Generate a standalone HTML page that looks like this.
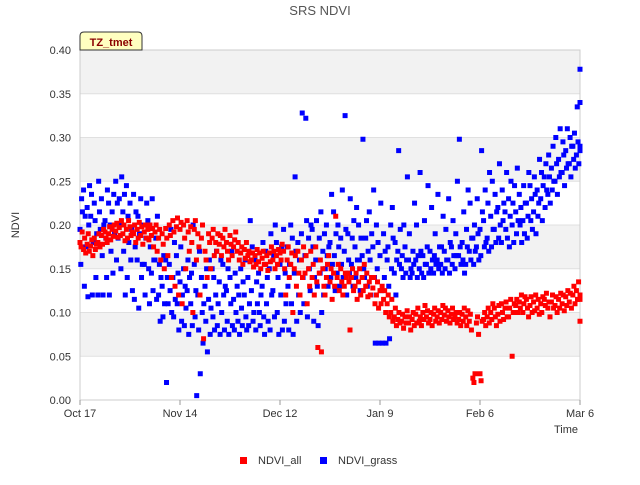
<!DOCTYPE html>
<html><head><meta charset="utf-8"><style>
body{margin:0;background:#fff;font-family:"Liberation Sans",sans-serif}
</style></head><body>
<svg id="chart" width="640" height="480" xmlns="http://www.w3.org/2000/svg" font-family="Liberation Sans, sans-serif">
<rect width="640" height="480" fill="#fff"/>
<g id="bands"></g>
<g id="grid"></g>
<rect x="80" y="50" width="500" height="350" fill="none" stroke="#ccc"/>
<g id="ticks"></g>
<g id="points"></g>
<text x="320" y="15" text-anchor="middle" font-size="13" fill="#555">SRS NDVI</text>
<text x="19" y="225" text-anchor="middle" font-size="11" fill="#333" transform="rotate(-90 19 225)">NDVI</text>
<text x="578" y="433" text-anchor="end" font-size="11" fill="#333">Time</text>
<g>
<path d="M80,50 L80,36 Q80,32 84,32 L138,32 Q142,32 142,36 L142,50 Z" fill="#ffffc0" stroke="#333"/>
<text x="111" y="46" text-anchor="middle" font-size="11" font-weight="bold" fill="#8b0000">TZ_tmet</text>
</g>
<g>
<rect x="240" y="457" width="7" height="7" fill="#f00"/>
<text x="258" y="464" font-size="11" fill="#333">NDVI_all</text>
<rect x="320" y="457" width="7" height="7" fill="#00f"/>
<text x="338" y="464" font-size="11" fill="#333">NDVI_grass</text>
</g>
</svg>
<script>
const yTicks=[0,0.05,0.10,0.15,0.20,0.25,0.30,0.35,0.40];
const yTickLabels=["0.00","0.05","0.10","0.15","0.20","0.25","0.30","0.35","0.40"];
const xTickDays=[0,28,56,84,112,140];
const xTickLabels=["Oct 17","Nov 14","Dec 12","Jan 9","Feb 6","Mar 6"];
const ndviAll=[[180,175,192],[172,185,168],[178,190,170],[176,183,165],[185,172,178],[180,190,175],[188,178,195],[192,185,180],[190,198,183],[195,187,200],
[193,202,186],[197,188,205],[190,200,182],[195,185,205],[198,188,192],[190,200,180],[195,185,203],[188,198,178],[192,200,185],[195,183,200],
[188,196,175],[192,200,170],[185,195,160],[190,178,150],[196,185,165],[200,188,140],[205,192,130],[198,208,120],[195,203,110],[200,185,150],
[205,192,170],[198,180,100],[195,205,160],[190,175,120],[185,200,70],[170,160,140],[190,180,150],[185,195,165],[180,170,190],[178,188,165],
[185,175,195],[180,170,160],[188,178,165],[175,183,192],[170,180,160],[168,175,155],[172,162,180],[165,170,158],[160,168,152],[165,155,172],
[158,168,150],[162,170,155],[155,165,148],[168,158,175],[160,170,150],[165,155,172],[168,160,178],[170,150,120],[160,175,140],[155,168,100],
[150,165,130],[170,145,120],[160,140,175],[145,165,110],[150,130,170],[140,155,120],[175,135,60],[145,160,55],[150,130,120],[140,155,165],
[135,150,115],[145,130,210],[140,155,125],[150,135,120],[130,145,140],[145,135,80],[140,150,125],[130,145,115],[135,150,120],[140,125,155],
[130,145,118],[135,120,140],[128,140,110],[120,135,105],[125,110,130],[115,125,100],[110,120,95],[100,115,90],[95,105,85],[92,100,88],
[90,98,82],[95,88,102],[88,95,80],[92,100,85],[98,88,105],[90,95,85],[100,92,108],[95,102,88],[92,100,85],[98,105,90],
[95,102,88],[100,92,108],[97,105,90],[102,95,88],[98,105,92],[95,100,88],[92,100,85],[98,90,105],[95,85,102],[90,98,80],
[25,20,30],[88,95,75],[30,22,90],[92,100,85],[95,105,88],[100,92,110],[105,95,85],[98,108,90],[110,100,92],[105,112,95],
[95,105,115],[50,100,110],[108,115,100],[112,105,120],[100,110,118],[115,105,95],[108,118,100],[112,102,120],[105,115,98],[110,100,118],
[115,108,122],[105,112,95],[112,120,105],[108,118,100],[115,105,122],[110,120,102],[118,108,125],[112,122,105],[120,130,110],[125,115,135],[115,90,120]];
const ndviGrass=[[195,155,230,215],[240,130,210,175],[220,118,200,245],[210,235,120,180],[225,205,140,190],[120,250,215,195],[230,165,120,200],[205,185,140,240],[225,120,200,170],[215,145,235,190],
[250,160,225,185],[230,200,150,255],[215,170,235,120],[245,140,210,180],[225,160,195,125],[235,115,175,215],[160,210,105,190],[230,140,155,200],[155,120,185,225],[205,150,110,175],
[145,230,125,160],[160,185,115,210],[120,155,90,140],[130,95,165,110],[160,20,140,110],[155,125,195,100],[140,95,180,115],[165,110,145,80],[135,175,90,120],[150,85,130,105],
[125,160,75,140],[110,145,85,200],[155,95,125,5],[120,80,170,30],[140,100,65,110],[130,90,150,55],[115,160,75,105],[150,95,140,80],[120,170,85,110],[135,75,160,100],
[155,120,80,130],[125,90,150,75],[140,110,170,85],[115,80,145,100],[130,90,120,75],[150,105,85,135],[120,160,95,80],[140,85,110,205],[125,175,90,100],[160,80,135,110],
[145,100,85,120],[130,180,95,75],[170,110,140,90],[150,80,190,120],[125,165,95,200],[180,100,140,75],[155,120,175,80],[195,90,145,110],[175,130,80,155],[200,110,185,75],
[145,255,170,90],[180,120,160,100],[190,328,140,110],[165,322,205,95],[185,150,125,200],[195,175,90,140],[160,205,130,85],[185,145,215,100],[170,120,190,150],[200,165,130,175],
[180,140,235,155],[215,165,125,190],[145,200,175,130],[185,155,240,140],[170,325,195,120],[190,160,145,230],[155,185,130,205],[175,140,220,160],[200,160,125,185],[165,298,150,140],
[185,205,130,170],[215,160,120,190],[175,240,140,65],[200,150,180,65],[165,225,125,65],[190,140,170,65],[160,175,130,70],[200,150,220,185],[145,180,120,160],[170,285,155,195],
[150,165,140,200],[175,145,160,255],[160,190,140,150],[145,170,155,225],[160,200,140,165],[150,260,170,145],[165,140,205,155],[155,175,245,145],[170,150,220,160],[145,165,190,155],
[160,235,150,175],[155,175,145,210],[170,150,195,160],[160,230,145,180],[175,155,205,165],[150,190,165,250],[165,298,175,155],[180,160,215,145],[155,195,175,240],[170,225,160,185],
[185,155,200,170],[175,230,190,160],[195,165,285,215],[205,175,240,180],[185,225,170,260],[210,175,250,195],[195,235,180,215],[220,185,270,200],[180,240,205,225],[215,195,260,185],
[230,175,210,250],[200,225,180,245],[215,190,265,205],[235,200,220,180],[205,245,190,225],[225,185,210,260],[245,205,230,195],[215,255,235,190],[240,210,225,275],[230,260,205,245],
[255,220,270,240],[235,280,255,225],[265,240,290,250],[250,300,270,235],[275,255,310,260],[260,295,280,245],[285,265,310,270],[270,300,255,290],[290,275,305,265],[280,335,295,270],[378,340,290,285]];

const NS="http://www.w3.org/2000/svg";
const X0=80,X1=580,Y0=400,Y1=50,DAYS=140,YMAX=0.4;
function xs(d){return X0+d*(X1-X0)/DAYS;}
function ys(v){return Y0-v*(Y0-Y1)/YMAX;}
function mk(tag,attrs,parent){const e=document.createElementNS(NS,tag);for(const k in attrs)e.setAttribute(k,attrs[k]);parent.appendChild(e);return e;}
const bands=document.getElementById('bands'),grid=document.getElementById('grid'),ticks=document.getElementById('ticks'),pts=document.getElementById('points');
for(let i=0;i<yTicks.length-1;i++){
  if(i%2===1){const b=mk('rect',{x:X0,y:ys(yTicks[i+1]),width:X1-X0,height:ys(yTicks[i])-ys(yTicks[i+1]),fill:'#f2f2f2'},bands);
  
  }
}
yTicks.forEach((v,i)=>{
  const l=mk('line',{x1:X0,x2:X1,y1:ys(v),y2:ys(v),stroke:'#e0e0e0'},grid);
  
  
  const t=mk('text',{x:X0-9,y:ys(v)+4,'text-anchor':'end','font-size':11,fill:'#333'},ticks);
  t.textContent=yTickLabels[i];
  
  
});
xTickDays.forEach((d,i)=>{
  const l=mk('line',{x1:xs(d),x2:xs(d),y1:Y0,y2:Y0+5,stroke:'#999'},ticks);
  
  
  const t=mk('text',{x:xs(d),y:Y0+17,'text-anchor':'middle','font-size':11,fill:'#333'},ticks);
  t.textContent=xTickLabels[i];
  
  
});
function plot(series,color,name){
  series.forEach((vals,d)=>{
    vals.forEach((v,j)=>{
      const off=(j/vals.length)*0.9;
      const x=Math.min(xs(d+off),X1);
      const r=mk('rect',{x:x-2.5,y:ys(v/1000)-2.5,width:5,height:5,fill:color},pts);
      
      
    });
  });
}
plot(ndviGrass,'#00f','ndvi-grass-point');
plot(ndviAll,'#f00','ndvi-all-point');
</script>
</body></html>
